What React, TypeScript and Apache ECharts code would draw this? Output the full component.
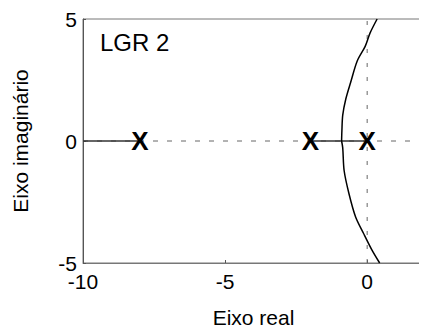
import React, { useEffect, useRef } from "react";
import * as echarts from "echarts";

// Root locus "LGR 2": open-loop poles and the traced branches
const poles: number[] = [-8, -2, 0];
const leftBranch: [number, number][] = [[-10, 0], [-8, 0]];
const realSegment: [number, number][] = [[-2, 0], [0, 0]];
const upperBranch: [number, number][] = [
  [-0.9, 0], [-0.89, 0.4], [-0.86, 1.06], [-0.75, 1.73], [-0.58, 2.41],
  [-0.35, 3.28], [-0.07, 3.88], [0.1, 4.42], [0.35, 5],
];
const lowerBranch: [number, number][] = [
  [-0.9, 0], [-0.86, -0.28], [-0.81, -1.22], [-0.64, -2.16], [-0.41, -3.1],
  [-0.13, -3.78], [0.16, -4.45], [0.44, -5],
];
const realAxisGuide: [number, number][] = [[-10, 0], [2, 0]];
const imagAxisGuide: [number, number][] = [[0, -5], [0, 5]];
const xTicks: number[] = [-10, -5, 0];
const yTicks: number[] = [-5, 0, 5];

const FONT = "Liberation Sans, Arial, sans-serif";

export default function App() {
  const ref = useRef<HTMLDivElement>(null);

  useEffect(() => {
    if (!ref.current) return;
    const chart = echarts.init(ref.current, undefined, { renderer: "svg" });
    chart.setOption({
      animation: false,
      backgroundColor: "#ffffff",
      grid: {
        left: 83,
        top: 19,
        right: -9,
        bottom: 66,
        show: true,
        borderColor: "#777777",
        borderWidth: 1,
      },
      xAxis: {
        type: "value",
        min: -10,
        max: 2,
        interval: 5,
        name: "Eixo real",
        nameLocation: "middle",
        nameGap: 44,
        nameTextStyle: { fontFamily: FONT, fontSize: 21, color: "#000" },
        axisLine: { show: true, onZero: false, lineStyle: { color: "#777777" } },
        axisTick: { show: true, inside: true, length: 3, lineStyle: { color: "#555" } },
        axisLabel: {
          fontFamily: FONT,
          fontSize: 21,
          color: "#000",
          margin: 8,
          formatter: (v: number) => (xTicks.includes(v) ? String(v) : ""),
        },
        splitLine: { show: false },
      },
      yAxis: {
        type: "value",
        min: -5,
        max: 5,
        interval: 5,
        name: "Eixo imaginário",
        nameLocation: "middle",
        nameGap: 52,
        nameTextStyle: { fontFamily: FONT, fontSize: 21, color: "#000" },
        axisLine: { show: true, onZero: false, lineStyle: { color: "#555555" } },
        axisTick: { show: true, inside: true, length: 3, lineStyle: { color: "#555" } },
        axisLabel: {
          fontFamily: FONT,
          fontSize: 21,
          color: "#000",
          margin: 6,
          formatter: (v: number) => (yTicks.includes(v) ? String(v) : ""),
        },
        splitLine: { show: false },
      },
      graphic: [
        {
          type: "text",
          left: 100,
          top: 30,
          style: { text: "LGR 2", fontFamily: FONT, fontSize: 24, fill: "#000" },
        },
      ],
      series: [
        {
          type: "line",
          data: realAxisGuide,
          symbol: "none",
          lineStyle: { color: "#666666", width: 1, type: [5, 9] },
          silent: true,
          z: 1,
        },
        {
          type: "line",
          data: imagAxisGuide,
          symbol: "none",
          lineStyle: { color: "#666666", width: 1, type: [4, 10] },
          silent: true,
          z: 1,
        },
        {
          type: "line",
          data: leftBranch,
          symbol: "none",
          lineStyle: { color: "#333333", width: 1.3 },
          z: 2,
        },
        {
          type: "line",
          data: realSegment,
          symbol: "none",
          lineStyle: { color: "#333333", width: 1.3 },
          z: 2,
        },
        {
          type: "line",
          data: upperBranch,
          symbol: "none",
          smooth: 0.3,
          lineStyle: { color: "#000000", width: 1.5 },
          z: 3,
        },
        {
          type: "line",
          data: lowerBranch,
          symbol: "none",
          smooth: 0.3,
          lineStyle: { color: "#000000", width: 1.5 },
          z: 3,
        },
        {
          type: "scatter",
          data: poles.map((p) => [p, 0]),
          symbolSize: 1,
          itemStyle: { color: "transparent", opacity: 1 },
          label: {
            show: true,
            position: "inside",
            formatter: "X",
            fontFamily: FONT,
            fontSize: 26,
            fontWeight: "bold",
            color: "#000",
            opacity: 1,
            textBorderWidth: 0,
          },
          z: 4,
        },
      ],
    });
    return () => chart.dispose();
  }, []);

  return <div ref={ref} style={{ width: 427, height: 333, margin: -8 }} />;
}
